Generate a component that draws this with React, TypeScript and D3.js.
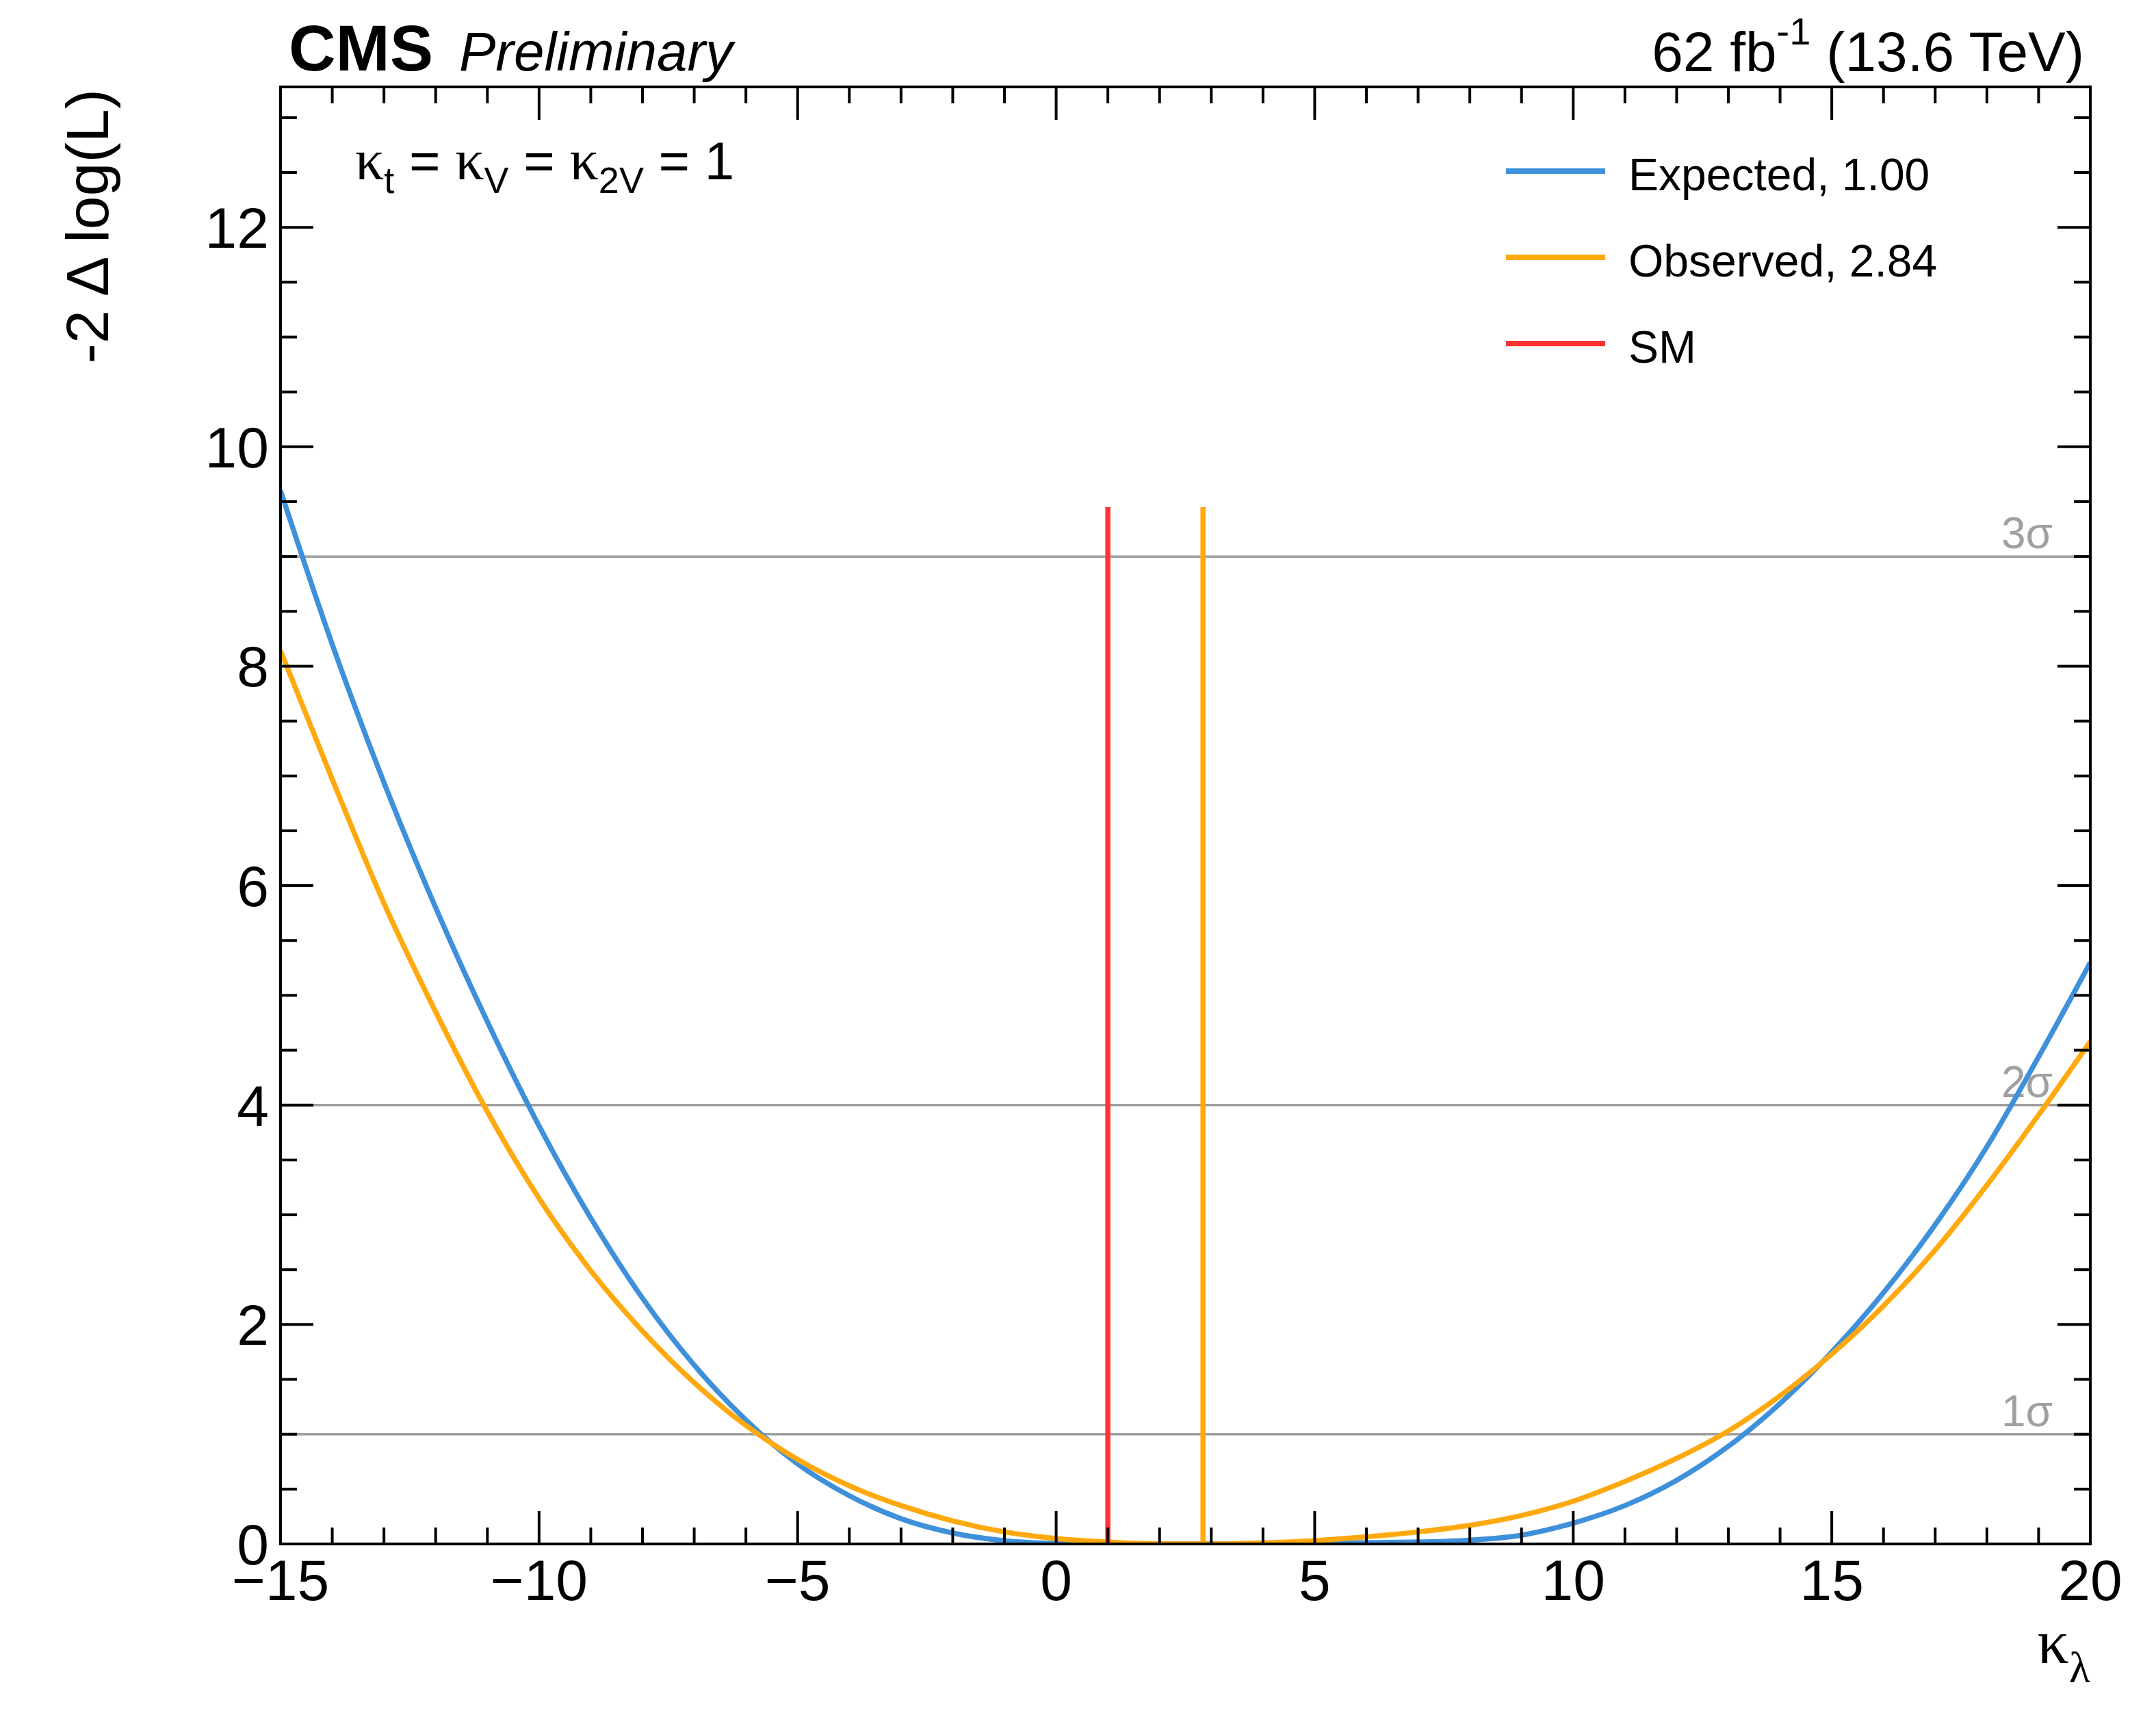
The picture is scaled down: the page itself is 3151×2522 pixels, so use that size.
import * as React from 'react'
import * as d3 from 'd3'

// kappa_lambda scan points
const kappaLambda = [
  -15, -14, -13, -12, -11, -10, -9, -8, -7, -6, -5, -4, -3, -2, -1, 0, 1, 2,
  3, 4, 5, 6, 7, 8, 9, 10, 11, 12, 13, 14, 15, 16, 17, 18, 19, 20,
]
const expectedNll = [
  9.6, 8.2, 6.94, 5.8, 4.76, 3.81, 2.97, 2.24, 1.63, 1.13, 0.73, 0.44, 0.23,
  0.1, 0.03, 0.005, 0.0, 0.0, 0.0, 0.004, 0.008, 0.012, 0.018, 0.035, 0.08,
  0.19, 0.35, 0.58, 0.89, 1.28, 1.75, 2.29, 2.91, 3.62, 4.44, 5.3,
]
const observedNll = [
  8.14, 6.97, 5.84, 4.85, 3.94, 3.15, 2.49, 1.94, 1.47, 1.08, 0.77, 0.53, 0.35,
  0.21, 0.11, 0.05, 0.017, 0.002, 0.0, 0.01, 0.03, 0.065, 0.11, 0.17, 0.26,
  0.39, 0.57, 0.78, 1.03, 1.35, 1.73, 2.17, 2.68, 3.27, 3.91, 4.58,
]

const bestFits = [
  { name: 'Expected', value: 1.0, color: '#3f90da', values: expectedNll },
  { name: 'Observed', value: 2.84, color: '#ffa90e', values: observedNll },
]
const smValue = 1
const smColor = '#ff3333'
const markerTop = 9.45

const sigmaLevels = [1, 4, 9]
const sigmaLabels = ['1σ', '2σ', '3σ']

const xTickValues = [-15, -10, -5, 0, 5, 10, 15, 20]
const xTickLabels = ['−15', '−10', '−5', '0', '5', '10', '15', '20']
const yTickValues = [0, 2, 4, 6, 8, 10, 12]
const yTickLabels = ['0', '2', '4', '6', '8', '10', '12']

const W = 3151
const H = 2522
const plot = { left: 410, right: 3055, top: 127, bottom: 2256 }
const sans = '"Liberation Sans", Arial, Helvetica, sans-serif'
const serif = '"Liberation Serif", "Times New Roman", serif'

export default function App() {
  const x = d3.scaleLinear().domain([-15, 20]).range([plot.left, plot.right])
  const y = d3.scaleLinear().domain([0, 13.28]).range([plot.bottom, plot.top])

  const line = d3
    .line<number>()
    .x((_, i) => x(kappaLambda[i]))
    .y((d) => y(d))
    .curve(d3.curveMonotoneX)

  const majorLen = 48
  const minorLen = 24
  const xMinor = d3.range(-15, 20.01, 1).filter((v) => !xTickValues.includes(v))
  const yMinor = d3.range(0, 13.01, 0.5).filter((v) => !yTickValues.includes(v))

  const tickStroke = { stroke: '#000', strokeWidth: 4 }

  return (
    <svg
      width={W}
      height={H}
      viewBox={`0 0 ${W} ${H}`}
      style={{ position: 'absolute', left: 0, top: 0, background: '#fff' }}
      fontFamily={sans}
    >
      <rect x={0} y={0} width={W} height={H} fill="#fff" />
      <defs>
        <clipPath id="plotClip">
          <rect x={plot.left} y={plot.top} width={plot.right - plot.left} height={plot.bottom - plot.top} />
        </clipPath>
      </defs>

      {/* sigma reference lines */}
      {sigmaLevels.map((s, i) => (
        <g key={s}>
          <line x1={plot.left} x2={plot.right} y1={y(s)} y2={y(s)} stroke="#a0a0a0" strokeWidth={3.5} />
          <text x={3000} y={y(s) - 12} textAnchor="end" fontSize={64} fill="#a0a0a0">
            {sigmaLabels[i]}
          </text>
        </g>
      ))}

      {/* curves */}
      <g clipPath="url(#plotClip)">
        {bestFits.map((b) => (
          <path key={b.name} d={line(b.values) ?? ''} fill="none" stroke={b.color} strokeWidth={7.5} />
        ))}
      </g>

      {/* SM and best-fit markers */}
      <line x1={x(smValue)} x2={x(smValue)} y1={y(0)} y2={y(markerTop)} stroke={smColor} strokeWidth={7.5} />
      <line
        x1={x(bestFits[1].value)}
        x2={x(bestFits[1].value)}
        y1={y(0)}
        y2={y(markerTop)}
        stroke={bestFits[1].color}
        strokeWidth={7.5}
      />

      {/* frame */}
      <rect
        x={plot.left}
        y={plot.top}
        width={plot.right - plot.left}
        height={plot.bottom - plot.top}
        fill="none"
        stroke="#000"
        strokeWidth={4}
      />

      {/* x ticks, bottom and top */}
      {xTickValues.map((v) => (
        <g key={`xM${v}`}>
          <line x1={x(v)} x2={x(v)} y1={plot.bottom} y2={plot.bottom - majorLen} {...tickStroke} />
          <line x1={x(v)} x2={x(v)} y1={plot.top} y2={plot.top + majorLen} {...tickStroke} />
        </g>
      ))}
      {xMinor.map((v) => (
        <g key={`xm${v}`}>
          <line x1={x(v)} x2={x(v)} y1={plot.bottom} y2={plot.bottom - minorLen} {...tickStroke} />
          <line x1={x(v)} x2={x(v)} y1={plot.top} y2={plot.top + minorLen} {...tickStroke} />
        </g>
      ))}
      {xTickValues.map((v, i) => (
        <text key={`xl${v}`} x={x(v)} y={2338} textAnchor="middle" fontSize={84}>
          {xTickLabels[i]}
        </text>
      ))}

      {/* y ticks, left and right */}
      {yTickValues.map((v) => (
        <g key={`yM${v}`}>
          <line x1={plot.left} x2={plot.left + majorLen} y1={y(v)} y2={y(v)} {...tickStroke} />
          <line x1={plot.right} x2={plot.right - majorLen} y1={y(v)} y2={y(v)} {...tickStroke} />
        </g>
      ))}
      {yMinor.map((v) => (
        <g key={`ym${v}`}>
          <line x1={plot.left} x2={plot.left + minorLen} y1={y(v)} y2={y(v)} {...tickStroke} />
          <line x1={plot.right} x2={plot.right - minorLen} y1={y(v)} y2={y(v)} {...tickStroke} />
        </g>
      ))}
      {yTickValues.map((v, i) => (
        <text key={`yl${v}`} x={393} y={y(v) + 30} textAnchor="end" fontSize={84}>
          {yTickLabels[i]}
        </text>
      ))}

      {/* axis titles */}
      <text transform="translate(158,130) rotate(-90)" textAnchor="end" fontSize={88}>
        -2 Δ log(L)
      </text>
      <text x={3055} y={2430} textAnchor="end">
        <tspan fontFamily={serif} fontSize={92}>κ</tspan>
        <tspan fontFamily={serif} fontSize={64} dy={28}>λ</tspan>
      </text>

      {/* header */}
      <text x={422} y={103} fontSize={95} fontWeight="bold">
        CMS
      </text>
      <text x={671} y={103} fontSize={80} fontStyle="italic">
        Preliminary
      </text>
      <text x={3046} y={104} textAnchor="end" fontSize={82}>
        62 fb
        <tspan fontSize={56} dy={-39}>-1</tspan>
        <tspan dy={39}> (13.6 TeV)</tspan>
      </text>

      {/* coupling annotation */}
      <text x={519} y={262} fontSize={78}>
        <tspan fontFamily={serif} fontSize={84}>κ</tspan>
        <tspan fontSize={54} dy={20}>t</tspan>
        <tspan dy={-20}> = </tspan>
        <tspan fontFamily={serif} fontSize={84}>κ</tspan>
        <tspan fontSize={54} dy={20}>V</tspan>
        <tspan dy={-20}> = </tspan>
        <tspan fontFamily={serif} fontSize={84}>κ</tspan>
        <tspan fontSize={54} dy={20}>2V</tspan>
        <tspan dy={-20}> = 1</tspan>
      </text>

      {/* legend */}
      {[
        { label: `${bestFits[0].name}, ${bestFits[0].value.toFixed(2)}`, color: bestFits[0].color },
        { label: `${bestFits[1].name}, ${bestFits[1].value.toFixed(2)}`, color: bestFits[1].color },
        { label: 'SM', color: smColor },
      ].map((d, i) => (
        <g key={d.label}>
          <line x1={2201} x2={2346} y1={250 + i * 126} y2={250 + i * 126} stroke={d.color} strokeWidth={8} />
          <text x={2380} y={278 + i * 126} fontSize={66}>
            {d.label}
          </text>
        </g>
      ))}
    </svg>
  )
}
